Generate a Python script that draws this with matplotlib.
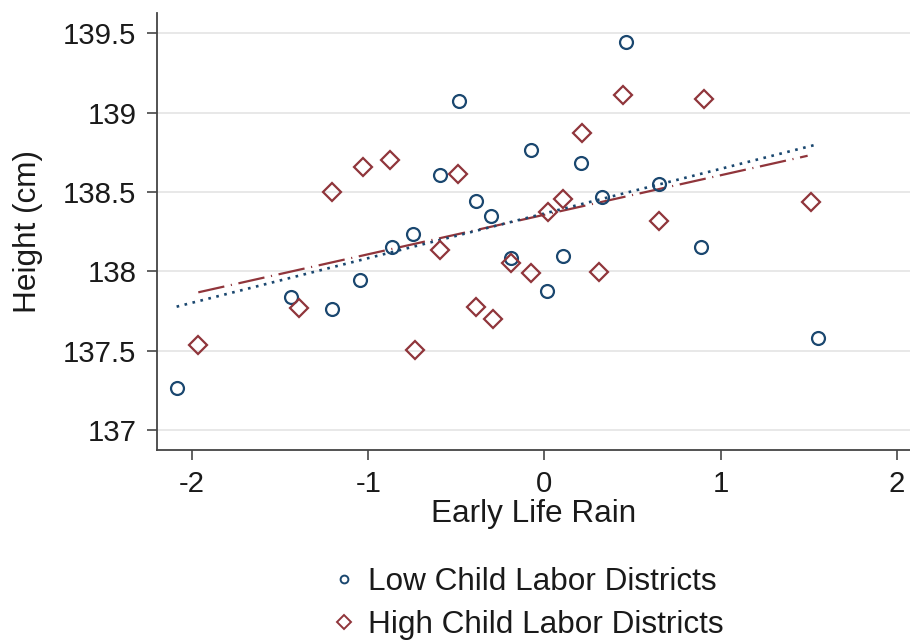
import numpy as np
import matplotlib
matplotlib.use("Agg")
import matplotlib.pyplot as plt
from matplotlib.lines import Line2D

plt.rcParams['font.family'] = ['Liberation Sans', 'DejaVu Sans']

# ---- data ----
low_rain = [-2.087, -1.438, -1.207, -1.047, -0.867, -0.748, -0.593, -0.483,
            -0.390, -0.304, -0.190, -0.078, 0.016, 0.107, 0.207, 0.325,
            0.462, 0.650, 0.888, 1.553]
low_height = [137.262, 137.839, 137.762, 137.945, 138.153, 138.235, 138.607, 139.073,
              138.443, 138.348, 138.081, 138.764, 137.877, 138.096, 138.680, 138.470,
              139.447, 138.548, 138.153, 137.577]

high_rain = [-1.964, -1.393, -1.207, -1.031, -0.877, -0.735, -0.593, -0.489,
             -0.390, -0.294, -0.190, -0.077, 0.022, 0.103, 0.211, 0.311,
             0.447, 0.650, 0.905, 1.510]
high_height = [137.535, 137.766, 138.501, 138.659, 138.701, 137.503, 138.134, 138.611,
               137.776, 137.697, 138.050, 137.987, 138.371, 138.455, 138.873, 137.997,
               139.111, 138.318, 139.086, 138.438]

# fitted lines as drawn in the reference (intercept, slope), low / high
fit_intercept = [138.364, 138.356]
fit_slope = [0.2816, 0.2491]
fit_range_low = [-2.087, 1.535]
fit_range_high = [-1.964, 1.493]

series_labels = ["Low Child Labor Districts", "High Child Labor Districts"]
x_ticks = [-2, -1, 0, 1, 2]
x_tick_labels = ["-2", "-1", "0", "1", "2"]
y_ticks = [137, 137.5, 138, 138.5, 139, 139.5]
y_tick_labels = ["137", "137.5", "138", "138.5", "139", "139.5"]
x_title = "Early Life Rain"
y_title = "Height (cm)"

BLUE = "#1a476f"
RED = "#90353b"

fig = plt.figure(figsize=(9.10, 6.42), dpi=100)
ax = fig.add_axes([156.7 / 910, 1 - 450 / 642, (910 - 156.7) / 910, (450 - 13.3) / 642])

ax.set_yticks(y_ticks)
ax.set_yticklabels(y_tick_labels)
ax.set_xticks(x_ticks)
ax.set_xticklabels(x_tick_labels)
ax.yaxis.grid(True, color="#e4e4e4", linewidth=1.2)
ax.set_axisbelow(True)

# scatter
ax.plot(low_rain, low_height, linestyle="none", marker="o", ms=9.3, mew=1.6,
        mfc="none", mec=BLUE, zorder=3)
ax.plot(high_rain, high_height, linestyle="none", marker="D", ms=9.2, mew=1.6,
        mfc="none", mec=RED, zorder=3)

# linear fits
xs1 = np.array(fit_range_low)
xs2 = np.array(fit_range_high)
ax.plot(xs2, fit_intercept[1] + fit_slope[1] * xs2, color=RED, lw=1.6,
        linestyle=(0, (12, 3, 0.5, 3)), zorder=2)
ax.plot(xs1, fit_intercept[0] + fit_slope[0] * xs1, color=BLUE, lw=1.9,
        linestyle=(0, (1, 2.1)), zorder=2)

ax.set_xlim(-2.2, (910 - 544.5) / 176.25)
ax.set_ylim(139.5 - (450 - 33.3) / 158.6, 139.5 + (33.3 - 13.3) / 158.6)

for s in ["top", "right"]:
    ax.spines[s].set_visible(False)
for s in ["left", "bottom"]:
    ax.spines[s].set_color("#444444")
    ax.spines[s].set_linewidth(1.3)

ax.tick_params(axis="both", direction="out", length=7.5, width=1.3,
               color="#555555", labelsize=21.2, labelcolor="#1a1a1a")
ax.tick_params(axis="y", pad=7)
ax.tick_params(axis="x", pad=7)

ax.set_xlabel(x_title, fontsize=22.7, color="#1a1a1a")
ax.set_ylabel(y_title, fontsize=22.7, color="#1a1a1a")
ax.xaxis.set_label_coords(0.5, (450 - 499) / 436.7)
ax.yaxis.set_label_coords((42.7 - 156.7) / 753.3, 0.5)

handles = [
    Line2D([], [], linestyle="none", marker="o", ms=5.6, mew=1.4, mfc="none", mec=BLUE),
    Line2D([], [], linestyle="none", marker="D", ms=7.4, mew=1.4, mfc="none", mec=RED),
]
fig.legend(handles, series_labels, loc="upper left",
           bbox_to_anchor=(327.75 / 910, 1 - 567 / 642),
           frameon=False, fontsize=22.7, borderpad=0, borderaxespad=0,
           handlelength=1.0, handletextpad=0.27, labelspacing=0.41,
           labelcolor="#1a1a1a", numpoints=1)

fig.savefig("out.png", dpi=100)
